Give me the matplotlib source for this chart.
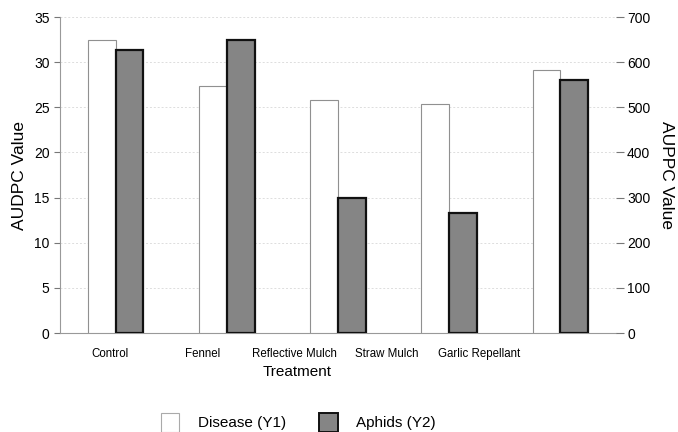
import numpy as np
import matplotlib
matplotlib.use("Agg")
import matplotlib.pyplot as plt
from matplotlib.patches import Patch

plt.rcParams["font.family"] = ["Liberation Sans", "DejaVu Sans"]

treatments = ["Control", "Fennel", "Reflective Mulch", "Straw Mulch", "Garlic Repellant"]
disease_y1 = [32.4, 27.4, 25.8, 25.4, 29.1]
aphids_y2 = [627, 649, 299, 266, 560]

fig = plt.figure(figsize=(6.78, 4.32), dpi=100)
ax = fig.add_axes([0.0885, 0.229, 0.82, 0.7316])
ax2 = ax.twinx()

x = np.arange(len(treatments))
w = 0.25
ax.bar(x - w / 2, disease_y1, w, color="white", edgecolor="#909090", linewidth=0.8, zorder=3)
ax2.bar(x + w / 2, aphids_y2, w, color="#858585", edgecolor="#111111", linewidth=1.6, zorder=3)

ax.set_xlim(-0.5, len(treatments) - 0.5)
ax.set_ylim(0, 35)
ax2.set_ylim(0, 700)
ax.set_yticks(np.arange(0, 36, 5))
ax2.set_yticks(np.arange(0, 701, 100))

# category labels sit left of the bar groups in the original
lab_pos = np.arange(len(treatments)) * 0.83 - 0.05
ax.set_xticks(lab_pos)
ax.set_xticklabels(treatments, fontsize=8.3)
ax.tick_params(axis="x", length=0, pad=11)

ax.grid(True, axis="y", color="#dddddd", linestyle=(0, (2, 2)), linewidth=0.7, zorder=0)
ax.tick_params(axis="y", labelsize=10, length=4, color="#777777", width=0.8)
ax2.tick_params(axis="y", labelsize=10, length=6, color="#777777", width=0.8, pad=2)

for a in (ax, ax2):
    a.spines["top"].set_visible(False)
    a.spines["right"].set_visible(False)
ax2.spines["left"].set_visible(False)
ax2.spines["bottom"].set_visible(False)
ax.spines["left"].set_color("#999999")
ax.spines["bottom"].set_color("#999999")

ax.set_ylabel("AUDPC Value", fontsize=12.5, labelpad=5)
ax2.set_ylabel("AUPPC Value", fontsize=12.5, rotation=270, labelpad=17)
fig.text(0.438, 0.138, "Treatment", fontsize=11, ha="center", va="center")

handles = [Patch(facecolor="white", edgecolor="#aaaaaa", linewidth=0.8),
           Patch(facecolor="#858585", edgecolor="#111111", linewidth=1.4)]
fig.legend(handles, ["Disease (Y1)", "Aphids (Y2)"], loc="center", ncol=2,
           bbox_to_anchor=(0.44, 0.022), frameon=False, fontsize=11,
           handlelength=1.2, handleheight=1.6, columnspacing=2.2, handletextpad=1.2)

fig.savefig("out.png", dpi=100)
